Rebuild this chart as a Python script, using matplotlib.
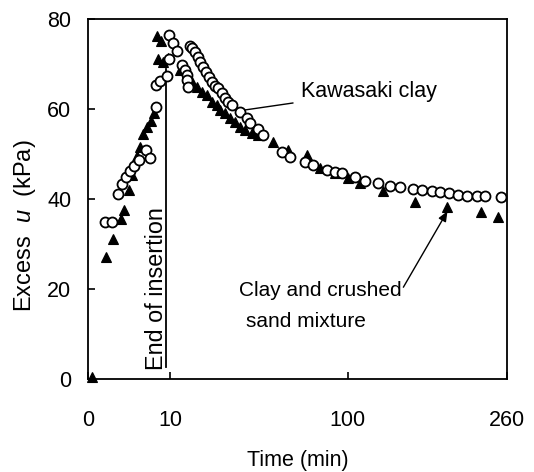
import numpy as np
import matplotlib
matplotlib.use("Agg")
import matplotlib.pyplot as plt

plt.rcParams['font.family'] = ['Liberation Sans', 'DejaVu Sans']
plt.rcParams['mathtext.fontset'] = 'custom'
plt.rcParams['mathtext.it'] = 'Liberation Sans:italic'
plt.rcParams['mathtext.rm'] = 'Liberation Sans'

# Kawasaki clay (open circles)
clay_t = [0.43, 0.86, 1.34, 1.72, 2.14, 2.62, 3.14, 3.86, 5.0, 5.71,
          6.87, 6.87, 7.7, 9.27, 9.74, 10.73, 11.76, 9.74,
          13.12, 13.97, 14.55, 14.55, 14.85,
          15.45, 16.06, 17.0, 17.97, 18.63, 19.64, 20.68, 21.74, 22.83, 23.95,
          25.1, 26.66, 27.87, 29.11, 30.79, 34.31, 37.54, 38.97, 42.92, 45.48,
          55.89, 60.59, 69.92, 75.18, 84.83, 90.6, 95.81, 105.9, 113.9, 124.9,
          135.4, 144.6, 156.9, 165.7, 175.7, 184.0, 193.5, 203.3, 213.3, 223.6,
          232.9, 253.0]
clay_u = [34.9, 34.9, 41.1, 43.3, 44.9, 46.2, 47.3, 48.7, 50.9, 49.1,
          60.4, 65.3, 66.2, 67.3, 76.4, 74.7, 72.9, 71.1,
          69.8, 68.7, 67.6, 66.4, 64.9,
          74.0, 73.6, 72.7, 71.6, 70.4, 69.3, 68.2, 67.1, 66.0, 65.1,
          64.7, 63.6, 62.4, 61.6, 60.9, 59.3, 58.0, 56.9, 55.6, 54.2,
          50.4, 49.3, 48.2, 47.6, 46.4, 46.0, 45.8, 44.9, 44.0, 43.6,
          42.9, 42.7, 42.2, 42.0, 41.8, 41.6, 41.3, 40.9, 40.7, 40.7,
          40.7, 40.4]

# clay and crushed sand mixture (filled triangles)
mix_t = [0.02, 0.48, 0.93, 1.62, 1.92, 2.5, 2.88, 3.57, 4.02, 4.49, 5.17,
         5.89, 6.47, 7.07, 7.91, 7.28, 8.35, 9.5, 12.57, 14.55, 16.06, 17.64,
         19.3, 21.03, 22.83, 24.71, 25.87, 27.87, 29.94, 32.09, 34.31, 36.6,
         39.94, 42.92, 50.83, 59.4, 71.22, 79.93, 90.6, 100.4, 109.9, 129.2,
         158.8, 191.4, 228.2, 248.4]
mix_u = [0.4, 27.1, 31.1, 35.6, 37.6, 42.0, 45.3, 49.6, 51.6, 54.4, 56.0,
         57.3, 59.1, 76.2, 75.1, 71.1, 70.4, 71.3, 68.7, 67.1, 66.0, 64.9,
         63.8, 63.1, 61.6, 60.9, 59.8, 59.1, 58.0, 57.1, 56.0, 55.3,
         54.7, 54.2, 52.7, 50.9, 49.8, 46.9, 45.8, 44.7, 43.6, 41.8,
         39.3, 38.2, 37.1, 36.0]

x_ticks = [0, 10, 100, 260]
y_ticks = [0, 20, 40, 60, 80]
t_end = 9.0

fs = 15.5

fig = plt.figure(figsize=(5.34, 4.72), dpi=100)
ax = fig.add_axes([0.1648, 0.197, 0.7846, 0.7627])

# time axis is drawn on a square-root scale
ax.set_xscale('function', functions=(lambda x: np.sqrt(np.clip(x, 0, None)),
                                     lambda x: np.square(x)))
ax.set_xlim(0, 260)
ax.set_ylim(0, 80)

ax.plot(mix_t, mix_u, ls='none', marker='^', ms=7.2, mfc='black', mec='black',
        mew=0.8, clip_on=False, zorder=3)
ax.plot(clay_t, clay_u, ls='none', marker='o', ms=7.2, mfc='white', mec='black',
        mew=1.3, clip_on=False, zorder=4)

# end of insertion marker
ax.plot([t_end, t_end], [2.7, 69], color='black', lw=1.3, zorder=2)
ax.text(7.0, 2.0, 'End of insertion', rotation=90, ha='center', va='bottom',
        fontsize=16.8)

ax.annotate('Kawasaki clay', xy=(36.6, 59.8), xytext=(67.4, 63.8),
            fontsize=fs, ha='left', va='center',
            arrowprops=dict(arrowstyle='-', color='black', lw=1.0,
                            shrinkA=4, shrinkB=0))
ax.annotate('', xy=(191.4, 37.3), xytext=(147.3, 20.4),
            arrowprops=dict(arrowstyle='-|>,head_length=0.6,head_width=0.25',
                            color='black', lw=1.0, shrinkA=0, shrinkB=0))
ax.text(33.86, 19.6, 'Clay and crushed', fontsize=15, ha='left', va='center')
ax.text(37.07, 12.7, 'sand mixture', fontsize=15, ha='left', va='center')

ax.set_xticks(x_ticks)
ax.set_xticklabels([str(v) for v in x_ticks])
ax.set_yticks(y_ticks)
ax.minorticks_off()
ax.tick_params(axis='x', direction='in', length=5, width=1.2, pad=22,
               labelsize=fs)
ax.tick_params(axis='y', direction='in', length=5, width=1.2, pad=12,
               labelsize=fs)
for s in ax.spines.values():
    s.set_linewidth(1.3)

ax.set_xlabel('Time (min)', fontsize=fs, labelpad=14)
ax.set_ylabel('Excess  $u$  (kPa)', fontsize=17)
ax.yaxis.set_label_coords(-0.12, 0.425)

fig.savefig('out.png', dpi=100)
